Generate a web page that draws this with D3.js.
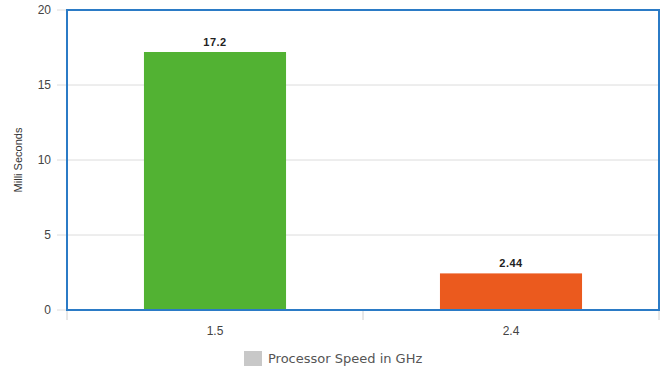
<!DOCTYPE html>
<html>
<head>
<meta charset="utf-8">
<script src="https://cdnjs.cloudflare.com/ajax/libs/d3/7.8.5/d3.min.js"></script>
<style>
  body{margin:0;background:#fff;}
  svg text{font-family:"Liberation Sans",Arial,sans-serif;}
</style>
</head>
<body>
<svg id="chart" width="665" height="371"></svg>
<script>
//-----------------------------------------------------------------------------
// DATA
var categories = ["1.5", "2.4"];
var values     = [17.2, 2.44];
var barColors  = ["#52b233", "#eb5a1e"];
var yTicks     = [0, 5, 10, 15, 20];
var yTitle     = "Milli Seconds";
var legendText = "Processor Speed in GHz";
//-----------------------------------------------------------------------------
// LAYOUT
var margin = {top:10, right:6, bottom:61, left:67};
var W = 665, H = 371;
var innerW = W - margin.left - margin.right;
var innerH = H - margin.top - margin.bottom;

var svg = d3.select("#chart");
var g = svg.append("g").attr("transform", "translate(" + margin.left + "," + margin.top + ")");

var x = d3.scaleBand().domain(categories).range([0, innerW]).paddingInner(0.52).paddingOuter(0.26);
var xb = d3.scaleBand().domain(categories).range([0, innerW]);
var y = d3.scaleLinear().domain([0, 20]).range([innerH, 0]);

// grid lines
g.selectAll("line.grid").data(yTicks).enter().append("line")
  .attr("class", "grid")
  .attr("x1", -10).attr("x2", innerW)
  .attr("y1", function(d){ return y(d); })
  .attr("y2", function(d){ return y(d); })
  .attr("stroke", "#dcdcdc").attr("stroke-width", 1);

// y tick labels
g.selectAll("text.ytick").data(yTicks).enter().append("text")
  .attr("class", "ytick")
  .attr("x", -16).attr("y", function(d){ return y(d); })
  .attr("dy", "0.35em").attr("text-anchor", "end")
  .attr("font-size", 12).attr("fill", "#444")
  .text(function(d){ return d; });

// x ticks at band boundaries
var xTickPos = [0].concat(categories.map(function(c){ return xb(c) + xb.bandwidth(); }));
g.selectAll("line.xtick").data(xTickPos).enter().append("line")
  .attr("class", "xtick")
  .attr("x1", function(d){ return d; }).attr("x2", function(d){ return d; })
  .attr("y1", innerH).attr("y2", innerH + 10)
  .attr("stroke", "#d0d0d0");

g.selectAll("text.xlabel").data(categories).enter().append("text")
  .attr("class", "xlabel")
  .attr("x", function(d){ return xb(d) + xb.bandwidth()/2; })
  .attr("y", innerH + 25)
  .attr("text-anchor", "middle")
  .attr("font-size", 12).attr("fill", "#444")
  .text(function(d){ return d; });

// bars
g.selectAll("rect.bar").data(values).enter().append("rect")
  .attr("class", "bar")
  .attr("x", function(d, i){ return x(categories[i]); })
  .attr("width", x.bandwidth())
  .attr("y", function(d){ return y(d); })
  .attr("height", function(d){ return innerH - y(d); })
  .attr("fill", function(d, i){ return barColors[i]; });

// value labels
g.selectAll("text.val").data(values).enter().append("text")
  .attr("class", "val")
  .attr("x", function(d, i){ return x(categories[i]) + x.bandwidth()/2; })
  .attr("y", function(d){ return y(d) - 6; })
  .attr("text-anchor", "middle")
  .attr("font-size", 11).attr("font-weight", "bold").attr("fill", "#222")
  .style("letter-spacing", "0.5px")
  .text(function(d){ return d; });

// plot border
g.append("rect")
  .attr("x", 0).attr("y", 0).attr("width", innerW).attr("height", innerH)
  .attr("fill", "none").attr("stroke", "#2b7bc6").attr("stroke-width", 2);

// y title
svg.append("text")
  .attr("transform", "translate(22," + (margin.top + innerH/2) + ") rotate(-90)")
  .attr("text-anchor", "middle")
  .attr("font-size", 11).attr("fill", "#333")
  .text(yTitle);

// legend
var lg = svg.append("g").attr("transform", "translate(244,351)");
lg.append("rect").attr("width", 18).attr("height", 15).attr("fill", "#c8c8c8");
lg.append("text").attr("x", 24).attr("y", 12)
  .style("font-family", "'DejaVu Sans',sans-serif")
  .attr("font-size", 13).attr("fill", "#555")
  .text(legendText);
</script>
</body>
</html>
